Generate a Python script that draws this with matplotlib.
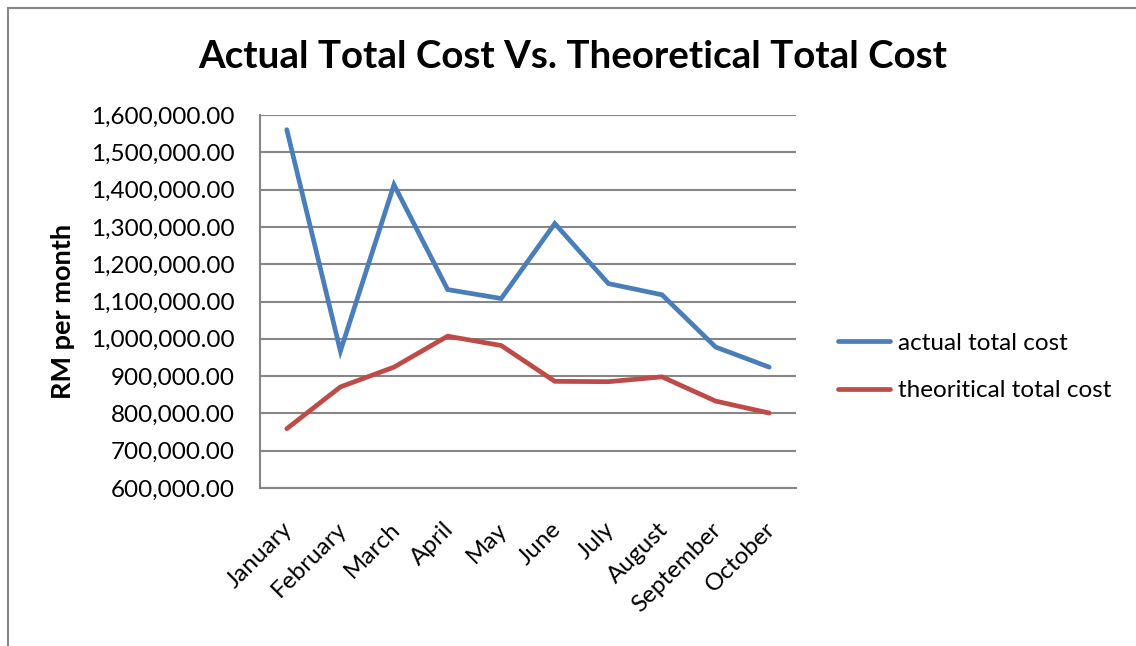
import matplotlib
matplotlib.use("Agg")
import matplotlib.pyplot as plt
from matplotlib.lines import Line2D
from matplotlib.transforms import ScaledTranslation

months = ["January", "February", "March", "April", "May", "June",
          "July", "August", "September", "October"]
actual_total_cost = [1560700, 967000, 1413000, 1132000, 1108000, 1309000,
                     1148000, 1118000, 978000, 924000]
theoritical_total_cost = [759000, 871000, 924000, 1007000, 982000, 886000,
                          885000, 898000, 833000, 801000]
yticks = [600000, 700000, 800000, 900000, 1000000, 1100000, 1200000,
          1300000, 1400000, 1500000, 1600000]

plt.rcParams['font.family'] = ['Lato', 'DejaVu Sans']

fig = plt.figure(figsize=(11.36, 6.46), dpi=100)
ax = fig.add_axes([260/1136, 1-488/646, 536/1136, 373/646])

x = list(range(len(months)))
ax.plot(x, actual_total_cost, color="#4A7EBB", lw=3.4, solid_capstyle="round",
        solid_joinstyle="miter", label="actual total cost", zorder=3)
ax.plot(x, theoritical_total_cost, color="#BE4B48", lw=3.4, solid_capstyle="round",
        solid_joinstyle="miter", label="theoritical total cost", zorder=3)

ax.set_xlim(-0.5, len(months) - 0.5)
ax.set_ylim(600000, 1600000)
ax.set_yticks(yticks)
ax.set_yticklabels([f"{v:,.2f}" for v in yticks], fontsize=17.5)
ax.set_xticks(x)
ax.set_xticklabels(months, rotation=45, ha="right", rotation_mode="anchor", fontsize=17.5)
ax.tick_params(axis="y", length=0, pad=18)
ax.tick_params(axis="x", length=0, pad=22)
off = ScaledTranslation(-5/100, 0, fig.dpi_scale_trans)
for lab in ax.get_xticklabels():
    lab.set_transform(lab.get_transform() + off)

ax.grid(axis="y", color="#868686", lw=1.5, zorder=1)
for s in ["top", "right"]:
    ax.spines[s].set_visible(False)
for s in ["left", "bottom"]:
    ax.spines[s].set_color("#868686")
    ax.spines[s].set_linewidth(1.5)

fig.text(63/1136, 1-311/646, "RM per month", rotation=90, ha="center", va="center",
         fontsize=19.5, fontweight="bold")

fig.text(573/1136, 1-57/646, "Actual Total Cost Vs. Theoretical Total Cost",
         ha="center", va="center", fontsize=27.7, fontweight="bold")

handles = [Line2D([0], [0], color="#4A7EBB", lw=3.4, solid_capstyle="round"),
           Line2D([0], [0], color="#BE4B48", lw=3.4, solid_capstyle="round")]
fig.legend(handles, ["actual total cost", "theoritical total cost"],
           loc="center left", bbox_to_anchor=(838/1136, 1-367/646),
           frameon=False, fontsize=17.5, handlelength=2.15, handletextpad=0.3,
           labelspacing=1.1, borderpad=0, borderaxespad=0)

# outer frame
fig.add_artist(Line2D([8/1136, 8/1136], [0, 1-8/646], transform=fig.transFigure,
                      color="#868686", lw=1.5))
fig.add_artist(Line2D([8/1136, 1], [1-8/646, 1-8/646], transform=fig.transFigure,
                      color="#868686", lw=1.5))

fig.savefig("out.png", dpi=100)
